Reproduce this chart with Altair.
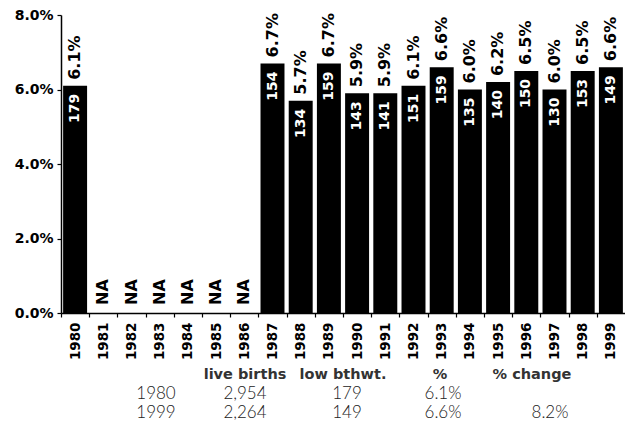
import altair as alt
import pandas as pd

years = [str(y) for y in range(1980, 2000)]
pct = [0.061, None, None, None, None, None, None, 0.067, 0.057, 0.067,
       0.059, 0.059, 0.061, 0.066, 0.060, 0.062, 0.065, 0.060, 0.065, 0.066]
counts = [179, None, None, None, None, None, None, 154, 134, 159,
          143, 141, 151, 159, 135, 140, 150, 130, 153, 149]

tbl_headers = ["live births", "low bthwt.", "%", "% change"]
tbl_rows = ["1980", "1999"]
tbl_births = ["2,954", "2,264"]
tbl_low = ["179", "149"]
tbl_pct = ["6.1%", "6.6%"]
tbl_change = ["", "8.2%"]

df = pd.DataFrame({"year": years, "pct": pct, "n": counts})

FONT = "DejaVu Sans"
W, H = 564, 298
STEP = W / 20.0

base = alt.Chart(df).transform_calculate(
    plabel="isValid(datum.pct) ? format(datum.pct, '.1%') : 'NA'"
)

xenc = alt.X(
    "year:N",
    sort=years,
    scale=alt.Scale(paddingInner=0.15, paddingOuter=0.075),
    axis=alt.Axis(
        title=None, labelAngle=270, labelFont=FONT, labelFontSize=13.5,
        labelFontWeight="bold", labelColor="black", labelPadding=5,
        labelBaseline="middle", labelAlign="right",
        tickOffset=-STEP / 2, labelOffset=STEP / 2, tickSize=4,
        tickColor="black", domainColor="black", domainWidth=1.5, tickWidth=1.2,
    ),
)
yenc = alt.Y(
    "pct:Q",
    scale=alt.Scale(domain=[0, 0.08], nice=False, zero=True),
    axis=alt.Axis(
        title=None, format=".1%", values=[0, 0.02, 0.04, 0.06, 0.08],
        labelFont=FONT, labelFontSize=14, labelFontWeight="bold",
        labelColor="black", labelPadding=4, tickSize=4, tickColor="black",
        domainColor="black", domainWidth=1.5, tickWidth=1.2, grid=False,
    ),
)

bars = base.mark_bar(color="black").encode(x=xenc, y=yenc)

pct_labels = base.transform_filter("isValid(datum.pct)").mark_text(
    angle=270, align="left", baseline="middle", dx=6, font=FONT,
    fontSize=16, fontWeight="bold", color="black",
).encode(x=alt.X("year:N", sort=years), y="pct:Q", text="plabel:N")

n_labels = base.transform_filter("isValid(datum.n)").mark_text(
    angle=270, align="right", baseline="middle", dx=-8, font=FONT,
    fontSize=14, fontWeight="bold", color="white",
).encode(x=alt.X("year:N", sort=years), y="pct:Q", text="n:Q")

na_labels = base.transform_filter("!isValid(datum.pct)").transform_calculate(
    zero="0"
).mark_text(
    angle=270, align="left", baseline="middle", dx=8, font=FONT,
    fontSize=16, fontWeight="bold", color="black",
).encode(x=alt.X("year:N", sort=years), y="zero:Q", text="plabel:N")

# table below the chart
cells = []
for h in tbl_headers:
    cells.append({"row": "header", "col": h, "text": h})
for i, r in enumerate(tbl_rows):
    cells.append({"row": r, "col": "year", "text": r})
    cells.append({"row": r, "col": "live births", "text": tbl_births[i]})
    cells.append({"row": r, "col": "low bthwt.", "text": tbl_low[i]})
    cells.append({"row": r, "col": "%", "text": tbl_pct[i]})
    cells.append({"row": r, "col": "% change", "text": tbl_change[i]})
tdf = pd.DataFrame(cells)

hdr_x = {"live births": 184, "low bthwt.": 282, "%": 379, "% change": 471}
val_x = {"year": 95, "live births": 184, "low bthwt.": 286, "%": 382, "% change": 489}
row_y = {"1980": 379, "1999": 398}

layers = [bars, pct_labels, n_labels, na_labels]
for c, px in hdr_x.items():
    layers.append(
        alt.Chart(tdf).transform_filter(
            (alt.datum.row == "header") & (alt.datum.col == c)
        ).mark_text(
            font=FONT, fontSize=14.5, fontWeight="bold", color="#333333",
            align="center", baseline="middle",
        ).encode(x=alt.value(px), y=alt.value(360), text="text:N")
    )
for r, py in row_y.items():
    for c, px in val_x.items():
        layers.append(
            alt.Chart(tdf).transform_filter(
                (alt.datum.row == r) & (alt.datum.col == c)
            ).mark_text(
                font="Lato", fontSize=17, fontWeight=300, color="#222222",
                align="center", baseline="middle",
            ).encode(x=alt.value(px), y=alt.value(py), text="text:N")
        )

chart = alt.layer(*layers).properties(
    width=W, height=H,
    autosize=alt.AutoSizeParams(type="none"),
    padding={"left": 53, "top": 7, "right": 0, "bottom": 107},
).configure_view(stroke=None).configure_axis(ticks=True)

chart.save("out.html", embed_options={"renderer": "svg", "actions": False})
